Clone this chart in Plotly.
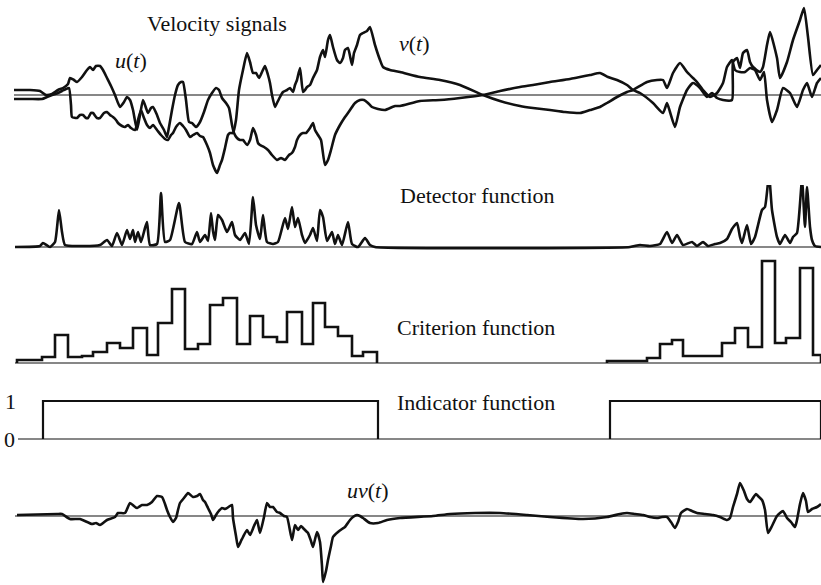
import plotly.graph_objects as go

# ---- velocity signals: time samples and amplitudes (arbitrary units) ----
u_t = [14, 30, 40, 46, 52, 58, 63, 68, 70, 74, 77, 82, 87, 90, 93, 96, 100, 103, 107, 111,
       115, 120, 124, 127, 130, 133, 137, 140, 143, 146, 148, 151, 153, 157, 160, 164, 167, 169,
       172, 175, 178, 181, 183, 186, 189, 192, 196, 200, 204, 208, 212, 216, 219, 222, 226, 229,
       232, 234, 237, 240, 243, 247, 250, 253, 256, 258, 260, 264, 268, 272, 277, 281, 285, 289,
       292, 295, 297, 300, 303, 306, 310, 313, 315, 318, 321, 325, 328, 331, 335, 340, 345, 350,
       355, 360, 364, 368, 372, 378, 385, 395, 400, 420, 440, 460, 483, 500, 520, 533, 550, 570,
       590, 600, 608, 617, 627, 633, 640, 653, 663, 667, 670, 675, 680, 687, 693, 700, 707, 712,
       717, 723, 732, 733, 737, 740, 743, 747, 750, 753, 760, 763, 767, 770, 777, 780, 787, 793,
       800, 804, 808, 813, 817, 821]
u_val = [5, 5, 4, 0, 1, 5, 7, 11, 17, 15, 13, 18, 25, 28, 25, 29, 29, 25, 17, 9,
         0, -12, -7, -2, -5, -15, -35, -20, -5, -13, -18, -13, -12, -20, -28, -35, -42, -32,
         -15, 0, 10, 13, 13, -5, -27, -28, -32, -27, -17, -5, 2, 7, 5, -3, -8, -13,
         -30, -38, -43, -45, -45, -50, -45, -33, -40, -48, -50, -52, -55, -60, -65, -63, -65, -60,
         -58, -52, -45, -40, -38, -38, -33, -28, -35, -40, -45, -70, -65, -55, -40, -30, -22, -15,
         -8, -5, -5, -8, -12, -14, -15, -11, -11, -6, -5, -3, 0, 4, 8, 10, 13, 16,
         20, 22, 18, 15, 10, 5, 2, -8, -18, -8, -17, -32, -12, 5, 12, 7, -2, 2,
         -3, -5, -5, 33, 37, 27, 42, 45, 33, 28, 23, 28, 50, 63, 37, 17, 33, 55,
         75, 87, 58, 20, 25, 30]

v_t = [14, 30, 42, 47, 52, 58, 62, 66, 69, 71, 72, 77, 80, 83, 86, 88, 91, 93, 97, 100,
       104, 107, 110, 113, 116, 118, 122, 125, 128, 131, 135, 138, 141, 144, 147, 150, 153, 157,
       161, 165, 168, 171, 173, 176, 180, 183, 186, 190, 193, 197, 200, 203, 207, 210, 213, 217,
       220, 222, 225, 228, 230, 233, 236, 239, 243, 247, 250, 253, 256, 259, 262, 265, 268, 270,
       272, 275, 277, 280, 283, 287, 290, 293, 295, 297, 300, 303, 305, 307, 310, 313, 317, 320,
       323, 325, 328, 330, 333, 337, 340, 343, 345, 348, 352, 354, 357, 360, 363, 367, 370, 375,
       380, 383, 390, 400, 420, 440, 460, 483, 500, 520, 533, 550, 565, 580, 590, 600, 607, 617,
       627, 633, 647, 657, 663, 667, 673, 680, 687, 693, 697, 703, 710, 717, 723, 727, 732, 735,
       740, 745, 750, 755, 760, 764, 767, 772, 777, 783, 790, 797, 803, 807, 812, 817, 821]
v_val = [-4, -4, -4, -2, 0, 2, 4, 6, 7, -10, -22, -23, -20, -20, -23, -23, -18, -18, -23, -23,
         -18, -17, -20, -22, -25, -28, -31, -32, -30, -33, -35, -25, -15, -23, -30, -33, -30, -35,
         -40, -44, -45, -40, -38, -32, -28, -31, -35, -42, -40, -38, -41, -42, -50, -58, -70, -78,
         -70, -65, -53, -40, -38, -38, -25, 5, 25, 42, 33, 22, 22, 17, 23, 29, 20, 12,
         0, -12, -8, -2, 3, 5, 7, 3, 10, 15, 27, 3, 5, 8, 10, 17, 25, 38,
         45, 38, 55, 60, 48, 35, 32, 37, 45, 47, 30, 42, 50, 60, 62, 64, 68, 50,
         35, 28, 25, 23, 18, 15, 10, 0, -6, -11, -13, -15, -17, -18, -15, -12, -8, -2,
         3, 5, 13, 15, 15, 7, 22, 32, 23, 17, 13, 5, -2, 2, 12, 28, 35, 25,
         23, 23, 27, 25, 15, 23, -5, -27, -15, 7, 2, -12, 5, 12, -2, 12, 17]

# ---- detector function ----
det_t = [15, 40, 43, 50, 55, 59, 62, 65, 80, 100, 107, 112, 117, 122, 127, 130, 133, 135, 138,
         141, 145, 147, 150, 157, 161, 165, 170, 179, 185, 192, 197, 200, 205, 208, 211, 213, 215,
         218, 222, 227, 232, 235, 240, 245, 249, 253, 256, 260, 263, 267, 273, 278, 285, 288, 292,
         295, 298, 302, 305, 310, 313, 317, 320, 323, 327, 332, 335, 338, 342, 348, 352, 358, 365,
         370, 375, 630, 640, 650, 660, 667, 672, 677, 683, 692, 697, 703, 708, 715, 720, 727, 732,
         737, 740, 742, 747, 751, 755, 762, 765, 769, 772, 777, 780, 785, 790, 793, 797, 802, 805,
         807, 810, 812, 815, 821]
det_val = [0, 1, 4, 0, 5, 37, 15, 2, 1, 2, 7, 1, 14, 2, 17, 8, 17, 5, 15,
           5, 19, 25, 2, 3, 54, 5, 7, 44, 5, 3, 15, 5, 12, 6, 34, 16, 7,
           32, 27, 15, 25, 12, 7, 14, 3, 50, 22, 8, 32, 5, 3, 5, 29, 18, 40,
           20, 29, 12, 4, 12, 19, 6, 37, 30, 6, 15, 3, 12, 2, 25, 3, 0, 9,
           2, 0, 0, 2, 1, 3, 15, 4, 12, 2, 5, 1, 5, 1, 3, 4, 8, 18,
           24, 10, 4, 22, 3, 10, 37, 40, 72, 37, 10, 3, 12, 4, 10, 14, 67, 20,
           60, 20, 7, 1, 0]

# ---- criterion function (piecewise constant over intervals) ----
crit1_edges = [17, 42, 55, 68, 82, 93, 107, 120, 133, 147, 158, 172, 185, 198, 210, 223, 237,
               250, 263, 277, 287, 302, 313, 325, 338, 352, 363, 377]
crit1_levels = [3, 6, 28, 6, 7, 11, 20, 15, 35, 8, 40, 74, 14, 19, 58, 65, 19, 47, 26, 21,
                51, 19, 60, 36, 27, 7, 11]
crit2_edges = [607, 647, 660, 672, 683, 722, 735, 748, 762, 775, 786, 800, 813, 821]
crit2_levels = [2, 5, 19, 23, 7, 20, 35, 16, 102, 20, 25, 95, 8]

# ---- indicator function: on-intervals ----
ind_on = [(43, 378), (610, 821)]

# ---- product signal uv(t) ----
uv_t = [17, 57, 62, 70, 80, 92, 96, 100, 107, 115, 118, 125, 130, 134, 137, 142, 147, 152, 157,
        162, 165, 167, 170, 173, 176, 178, 180, 184, 188, 193, 197, 200, 203, 205, 208, 211, 213,
        216, 218, 222, 225, 227, 230, 232, 233, 236, 238, 241, 243, 247, 250, 254, 257, 260, 264,
        267, 270, 273, 277, 280, 284, 287, 292, 295, 298, 301, 303, 306, 308, 311, 313, 317, 320,
        322, 323, 326, 328, 331, 333, 338, 342, 345, 350, 353, 357, 360, 363, 370, 378, 387, 400,
        433, 450, 475, 500, 527, 550, 583, 607, 620, 627, 635, 643, 650, 657, 662, 667, 671, 675,
        678, 681, 687, 692, 697, 705, 713, 720, 727, 730, 733, 737, 740, 744, 747, 750, 753, 756,
        758, 762, 765, 768, 772, 777, 783, 787, 791, 795, 797, 800, 803, 806, 808, 812, 817, 821]
uv_val = [1, 2, 2, -3, -3, -8, -7, -9, -4, -1, 3, 3, 13, 10, 8, 11, 11, 14, 20,
          19, 12, 6, -1, -6, -2, 6, 13, 18, 23, 19, 20, 22, 16, 14, 8, 2, -4,
          1, 4, 8, 7, 8, 10, 11, -2, -20, -31, -25, -21, -14, -19, -10, -4, -17, -1,
          13, 9, 9, 4, 3, 0, -1, -24, -9, -14, -10, -12, -15, -17, -25, -31, -16, -26,
          -50, -66, -55, -44, -30, -21, -16, -13, -11, -4, -1, 1, 0, -2, -7, -7, -4, -2,
          0, 2, 3, 3, 1, -1, -3, -1, 2, 3, 2, 1, -1, -2, -1, -1, -6, -12,
          -6, 3, 7, 5, 3, 2, 1, -1, -4, -2, 9, 22, 33, 25, 17, 14, 18, 22,
          20, 16, 6, -17, -10, 0, 5, -2, -6, -11, -4, 12, 23, 15, 4, 7, 9, 12]

# ---- layout of the stacked panels (pixel rows on an 821 x 585 canvas) ----
W, H = 821, 585
FONT = "Liberation Serif, Times New Roman, serif"
INK = "#111111"


def panel(top, bottom, base, scale=1.0):
    """Axis domain/range so that one value unit spans `scale` pixels."""
    dom = [1 - bottom / H, 1 - top / H]
    rng = [(base - bottom) / scale, (base - top) / scale]
    return dom, rng


panels = {
    "y": panel(0, 185, 95),
    "y2": panel(185, 252, 247),
    "y3": panel(252, 370, 363),
    "y4": panel(370, 450, 439, 38.0),
    "y5": panel(450, 585, 516),
}

fig = go.Figure()
LINE = dict(color=INK, width=2.6)
smooth = dict(mode="lines", line=dict(LINE, shape="spline", smoothing=0.5),
              hoverinfo="skip", showlegend=False)
sharp = dict(mode="lines", hoverinfo="skip", showlegend=False)

fig.add_trace(go.Scatter(x=u_t, y=u_val, yaxis="y", **smooth))
fig.add_trace(go.Scatter(x=v_t, y=v_val, yaxis="y", **smooth))
fig.add_trace(go.Scatter(x=det_t, y=det_val, yaxis="y2", **smooth))


def steps(edges, levels):
    xs = [edges[0]] + list(edges)
    ys = [0] + list(levels) + [0]
    return xs, ys


for edges, levels in ((crit1_edges, crit1_levels), (crit2_edges, crit2_levels)):
    xs, ys = steps(edges, levels)
    fig.add_trace(go.Scatter(x=xs, y=ys, yaxis="y3", line=dict(LINE, shape="hv"), **sharp))

for a, b in ind_on:
    fig.add_trace(go.Scatter(x=[a, a, b, b], y=[0, 1, 1, 0], yaxis="y4",
                             line=dict(color=INK, width=2.2), **sharp))

fig.add_trace(go.Scatter(x=uv_t, y=uv_val, yaxis="y5", **smooth))

# zero reference lines of each panel
for ax, x0 in (("y", 14), ("y2", 15), ("y3", 15), ("y4", 18), ("y5", 15)):
    fig.add_shape(type="line", xref="x", yref=ax, x0=x0, x1=W, y0=0, y1=0,
                  line=dict(color=INK, width=1.1), layer="below")

labels = [
    ("Velocity signals", 217, 72, "y"),
    ("<i>u</i>(<i>t</i>)", 131, 35, "y"),
    ("<i>v</i>(<i>t</i>)", 414, 52, "y"),
    ("Detector function", 477, 52, "y2"),
    ("Criterion function", 476, 36, "y3"),
    ("Indicator function", 476, 0.95, "y4"),
    ("1", 10, 1.0, "y4"),
    ("0", 9, 0.0, "y4"),
    ("<i>uv</i>(<i>t</i>)", 368, 26, "y5"),
]
for text, x, y, ax in labels:
    fig.add_annotation(text=text, x=x, y=y, xref="x", yref=ax, showarrow=False,
                       font=dict(family=FONT, size=22, color=INK))

hidden = dict(visible=False, showgrid=False, zeroline=False, fixedrange=True)
layout_axes = {}
for name, (dom, rng) in panels.items():
    key = "yaxis" if name == "y" else "yaxis" + name[1:]
    layout_axes[key] = dict(domain=dom, range=rng, anchor="x", **hidden)

fig.update_layout(
    width=W, height=H,
    margin=dict(l=0, r=0, t=0, b=0),
    paper_bgcolor="white", plot_bgcolor="white",
    xaxis=dict(range=[0, W], domain=[0, 1], **hidden),
    **layout_axes,
)

fig.write_html("out.html")
